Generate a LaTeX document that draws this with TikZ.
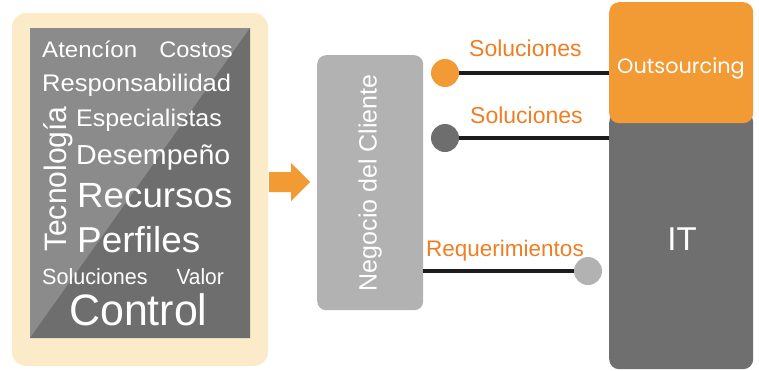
\documentclass[tikz,border=0pt]{standalone}
\usepackage{fontspec}
\setmainfont{Liberation Sans}
\newfontfamily\geofont{Poppins}
\definecolor{cream}{HTML}{FBEBC9}
\definecolor{glight}{HTML}{8B8B8B}
\definecolor{gdark}{HTML}{6E6E6E}
\definecolor{obox}{HTML}{F29A33}
\definecolor{otext}{HTML}{EF7E22}
\definecolor{negray}{HTML}{B2B2B2}
\definecolor{itgray}{HTML}{6F6F6F}
\definecolor{linec}{HTML}{1C1C1C}
\newcommand{\fs}[1]{\fontsize{#1}{#1}\selectfont}
\newcommand{\sx}[2]{\scalebox{#1}[1]{#2}}
\tikzset{
  word/.style={text=white, inner sep=0pt, anchor=base west},
  lbl/.style={text=otext, inner sep=0pt, anchor=base west, font=\fs{23}},
  dot/.style={circle, minimum size=28pt, inner sep=0pt},
  conn/.style={draw=linec, line width=4pt},
}
\begin{document}
\begin{tikzpicture}[x=1pt,y=-1pt]
\useasboundingbox (0,0) rectangle (759,370);
% left panel
\fill[cream, rounded corners=14pt] (12,13) rectangle (268,366);
\fill[glight] (30,28) rectangle (250,338);
\fill[gdark] (30,338) -- (250,28) -- (250,338) -- cycle;
\node[word, font=\fs{22.5}] (w1) at (42,57.5) {\sx{1.07}{Atencíon}};
\node[word, font=\fs{22.5}, anchor=base east] (w2) at (233,57.5) {\sx{1.05}{Costos}};
\node[word, font=\fs{24}] (w3) at (42,91) {\sx{1.065}{Responsabilidad}};
\node[word, font=\fs{24}] (w4) at (76,126.5) {\sx{1.04}{Especialistas}};
\node[word, font=\fs{27.5}] (w5) at (76,164.5) {\sx{1.04}{Desempeño}};
\node[word, font=\fs{35}] (w6) at (77,207.5) {\sx{1.05}{Recursos}};
\node[word, font=\fs{36}] (w7) at (77,252) {\sx{1.025}{Perfiles}};
\node[word, font=\fs{22}] (w8) at (42,284) {\sx{0.98}{Soluciones}};
\node[word, font=\fs{22}, anchor=base east] (w9) at (224,284) {\sx{0.95}{Valor}};
\node[word, font=\fs{44}] (w10) at (69,325) {\sx{0.975}{Control}};
\node[word, font=\fs{31}, rotate=90] (w11) at (66,252) {\sx{0.97}{Tecnología}};
% arrow
\fill[obox] (269,172) -- (291,172) -- (291,163) -- (310,182) -- (291,201) -- (291,192) -- (269,192) -- cycle;
% client box
\node[fill=negray, rounded corners=9pt, minimum width=106pt, minimum height=255pt, anchor=north west, inner sep=0pt] (neg) at (317,55) {};
\node[text=white, font=\fs{25}, rotate=90, inner sep=0pt] (negt) at (neg.center) {Negocio del Cliente};
% right boxes
\node[fill=itgray, rounded corners=10pt, minimum width=144pt, minimum height=257pt, anchor=north west, inner sep=0pt] (it) at (609,112) {};
\node[text=white, font=\fs{33}, inner sep=0pt, anchor=base] (itt) at (682,250.5) {IT};
\node[fill=obox, rounded corners=10pt, minimum width=144pt, minimum height=121pt, anchor=north west, inner sep=0pt] (out) at (609,2) {};
\node[text=white, font=\geofont\fs{20.8}, inner sep=0pt, anchor=base] (outt) at (681,73.5) {Outsourcing};
% connectors
\coordinate (c1) at (445,73);
\coordinate (c2) at (445,138);
\coordinate (c3) at (588,271);
\draw[conn] (c1) -- (c1 -| out.west);
\draw[conn] (c2) -- (c2 -| it.west);
\draw[conn] (c3 -| neg.east) -- (c3);
\node[dot, fill=obox] (d1) at (c1) {};
\node[dot, fill=gdark] (d2) at (c2) {};
\node[dot, fill=negray] (d3) at (c3) {};
% labels
\node[lbl] (l1) at (469,56) {Soluciones};
\node[lbl] (l2) at (470,123) {Soluciones};
\node[lbl, font=\fs{22.5}] (l3) at (426,256) {Requerimientos};
\end{tikzpicture}
\end{document}
